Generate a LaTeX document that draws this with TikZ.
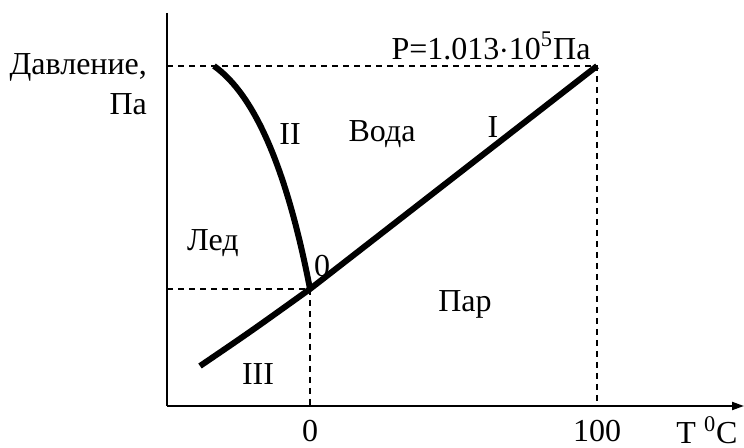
\documentclass[tikz,border=0pt]{standalone}
\usepackage{fontspec}
\setmainfont{Liberation Serif}
\usetikzlibrary{arrows.meta, positioning}
\tikzset{
  axis/.style={line width=1pt},
  phase/.style={line width=3pt},
  guide/.style={line width=0.75pt, dash pattern=on 3pt off 2.5pt},
}
\begin{document}
\begin{tikzpicture}[x=0.5pt, y=-0.5pt, font=\fontsize{16}{19}\selectfont]
    \useasboundingbox (0,0) rectangle (744,448);

    % Key points
    \coordinate (origin) at (167,406);
    \coordinate (ytop) at (167,13);
    \coordinate (xend) at (744,406);
    \coordinate (triple) at (310,289);
    \coordinate (boil) at (597,66);
    \coordinate (melt) at (214,66);
    \coordinate (subl) at (200,366);

    % Axes
    \draw[axis] (ytop) -- (origin);
    \draw[axis, -{Triangle[length=6pt,width=4pt]}] (origin) -- (xend);

    % Dashed guides
    \draw[guide] (origin |- triple) -- (triple) -- (triple |- origin);
    \draw[guide] (origin |- boil) -- (boil) -- (boil |- origin);

    % Phase curves
    \draw[phase] (subl) .. controls (250,332) .. (triple) -- (boil);
    \draw[phase] (melt) .. controls (255,95) and (287,170) .. (triple);

    % Axis labels
    \node[anchor=east] (pname) at (154,67) {Давление,};
    \node[anchor=east] (punit) at (154,104) {Па};
    \node (patm) at (491,46) {P=1.013$\cdot$10\textsuperscript{5}Па};
    \foreach \x/\t in {310/0, 597/100} {
        \node[inner sep=1pt] (tick\t) at (\x,431) {\t};
    }
    \node[inner sep=1pt] (tname) at (707,430) {T \textsuperscript{0}C};

    % Region and curve labels
    \node (lII) at (290,134) {II};
    \node (water) at (382,134) {Вода};
    \node (lI) at (493,127) {I};
    \node (ice) at (213,243) {Лед};
    \node (lzero) at (322,266) {0};
    \node (vapour) at (465,304) {Пар};
    \node (lIII) at (258,374) {III};
\end{tikzpicture}
\end{document}
